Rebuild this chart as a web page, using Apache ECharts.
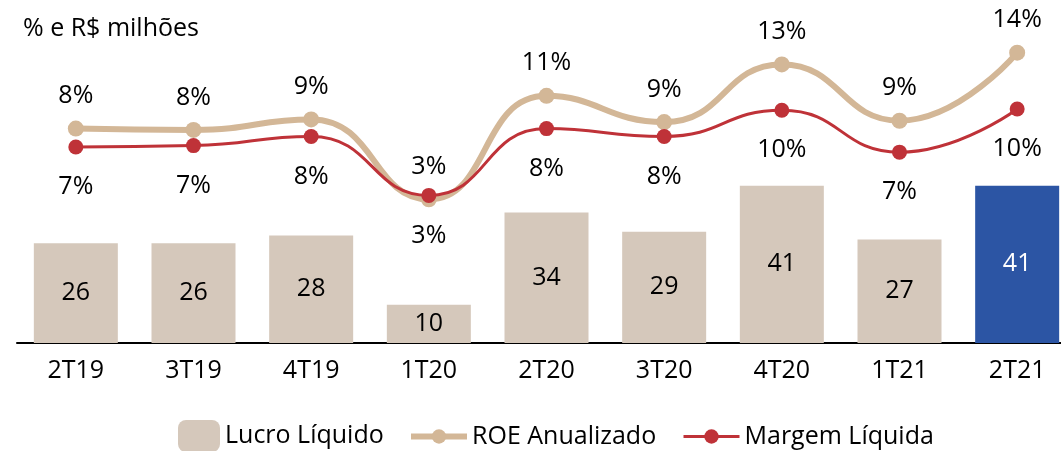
<!DOCTYPE html>
<html lang="pt">
<head>
    <meta charset="UTF-8">
    <title>Lucro Líquido</title>
    <script src="https://cdn.jsdelivr.net/npm/echarts@6/dist/echarts.min.js"></script>
    <style>
        html, body { margin: 0; padding: 0; background: #fff; overflow: hidden; }
        /* o último trimestre fica cortado na borda direita, como no original */
        #main { width: 1076px; height: 451px; }
    </style>
</head>
<body>
<div id="main"></div>
<script>
    // dados
    var trimestres = ['2T19', '3T19', '4T19', '1T20', '2T20', '3T20', '4T20', '1T21', '2T21'];
    var lucro = [26, 26, 28, 10, 34, 29, 41, 27, 41];
    var roe = [8.3, 8.2, 9.0, 2.9, 10.8, 8.8, 13.2, 8.9, 14.1];
    var margem = [6.9, 7.0, 7.7, 3.2, 8.3, 7.7, 9.7, 6.5, 9.8];

    var fonte = '"Open Sans", sans-serif';
    var corBarra = '#D5C8BB';
    var corDestaque = '#2C55A4';
    var corRoe = '#D3B797';
    var corMargem = '#BF3238';

    var barras = lucro.map(function (v, i) {
        if (i === lucro.length - 1) {
            return {value: v, itemStyle: {color: corDestaque}, label: {color: '#fff'}};
        }
        return v;
    });

    function pct(p) {
        return Math.round(p.value) + '%';
    }

    var txtLegenda = {fontFamily: fonte, fontSize: 25, color: '#000'};

    var chart = echarts.init(document.getElementById('main'));
    chart.setOption({
        animation: false,
        textStyle: {fontFamily: fonte},
        title: {
            text: '% e R$ milhões',
            left: 18, top: 11,
            textStyle: {fontFamily: fonte, fontSize: 25, fontWeight: 'normal', color: '#000'}
        },
        legend: [
            {
                data: ['Lucro Líquido'],
                left: 173, top: 415,
                itemWidth: 42, itemHeight: 32, itemGap: 8,
                textStyle: txtLegenda
            },
            {
                data: [{name: 'ROE Anualizado', lineStyle: {width: 6}}],
                left: 403, top: 419,
                itemWidth: 56, itemHeight: 18,
                textStyle: txtLegenda
            },
            {
                data: [{name: 'Margem Líquida', lineStyle: {width: 3}}],
                left: 677, top: 419,
                itemWidth: 56, itemHeight: 18,
                textStyle: txtLegenda
            }
        ],
        grid: {left: 17, right: 0, top: 36, bottom: 108, containLabel: false},
        xAxis: {
            type: 'category',
            data: trimestres,
            axisTick: {show: false},
            axisLine: {lineStyle: {color: '#000', width: 2}},
            axisLabel: {fontFamily: fonte, fontSize: 25, color: '#000', margin: 15}
        },
        yAxis: [
            {type: 'value', min: 0, max: 80, show: false, splitLine: {show: false}},
            {type: 'value', min: -8.07, max: 15.37, show: false, splitLine: {show: false}}
        ],
        series: [
            {
                name: 'Lucro Líquido',
                type: 'bar',
                data: barras,
                barWidth: 84,
                itemStyle: {color: corBarra},
                label: {show: true, position: 'inside', fontFamily: fonte, fontSize: 25, color: '#000'},
                z: 1
            },
            {
                name: 'ROE Anualizado',
                type: 'line',
                yAxisIndex: 1,
                data: roe,
                smooth: 0.5,
                symbol: 'circle',
                symbolSize: 16,
                lineStyle: {color: corRoe, width: 6},
                itemStyle: {color: corRoe},
                label: {show: true, position: 'top', distance: 12, formatter: pct,
                    fontFamily: fonte, fontSize: 25, color: '#000'},
                z: 2
            },
            {
                name: 'Margem Líquida',
                type: 'line',
                yAxisIndex: 1,
                data: margem,
                smooth: 0.5,
                symbol: 'circle',
                symbolSize: 15,
                lineStyle: {color: corMargem, width: 3},
                itemStyle: {color: corMargem},
                label: {show: true, position: 'bottom', distance: 20, formatter: pct,
                    fontFamily: fonte, fontSize: 25, color: '#000'},
                z: 3
            }
        ]
    });
</script>
</body>
</html>
